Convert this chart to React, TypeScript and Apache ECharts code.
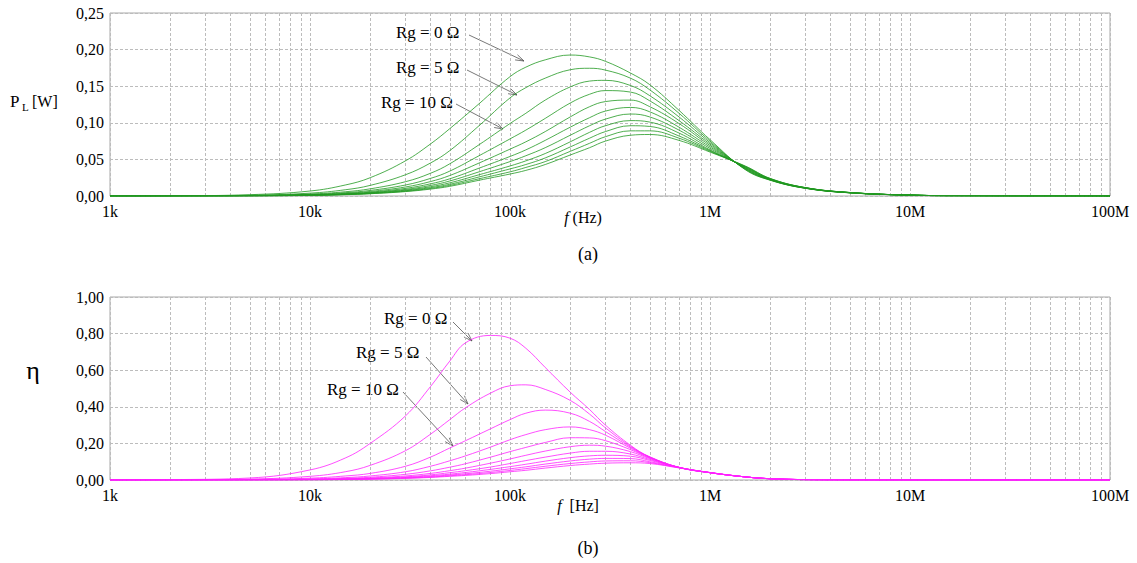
import React, { useEffect, useRef } from "react";
import * as echarts from "echarts";

// Frequency sample points (Hz) for the load-power curves
const powerFreqs = [
  1e3, 2e3, 5e3, 1e4, 1.5e4, 2e4, 3e4, 4e4, 5e4, 7e4, 1e5, 1.2e5, 1.5e5, 2e5, 2.5e5, 3e5,
  4e5, 5e5, 7e5, 1e6, 1.5e6, 2e6, 3e6, 5e6, 1e7, 2e7, 1e8,
];

// Frequency sample points (Hz) for the efficiency curves
const effFreqs = [
  1e3, 2e3, 5e3, 1e4, 1.5e4, 2e4, 3e4, 4e4, 5e4, 6e4, 8e4, 1e5, 1.2e5, 1.5e5, 2e5, 2.5e5,
  3e5, 4e5, 5e5, 7e5, 1e6, 1.5e6, 2e6, 3e6, 5e6, 1e7, 1e8,
];

// Generator resistance of each curve (Ω)
const rgValues = [0, 5, 10, 15, 20, 25, 30, 35, 40, 45, 50];

// Load power P_L [W]
const powerRg0 = [0.0001, 0.0003, 0.0018, 0.0068, 0.015, 0.025, 0.048, 0.071, 0.092, 0.126, 0.163, 0.176, 0.186, 0.1926, 0.19, 0.184, 0.168, 0.152, 0.117, 0.077, 0.036, 0.0215, 0.0105, 0.0043, 0.0012, 0.0003, 0];
const powerRg5 = [0.0001, 0.0002, 0.001, 0.0039, 0.0085, 0.0145, 0.029, 0.045, 0.062, 0.096, 0.134, 0.148, 0.161, 0.1725, 0.1745, 0.172, 0.161, 0.145, 0.113, 0.075, 0.0365, 0.0218, 0.0106, 0.0044, 0.0012, 0.0003, 0];
const powerRg10 = [0, 0.0001, 0.0007, 0.0027, 0.0058, 0.0098, 0.0195, 0.031, 0.044, 0.07, 0.099, 0.113, 0.131, 0.149, 0.157, 0.158, 0.151, 0.137, 0.108, 0.073, 0.037, 0.022, 0.0107, 0.0044, 0.0012, 0.0003, 0];
const powerRg15 = [0, 0.0001, 0.0005, 0.0021, 0.0045, 0.0076, 0.015, 0.024, 0.034, 0.055, 0.078, 0.09, 0.106, 0.127, 0.139, 0.144, 0.142, 0.13, 0.103, 0.071, 0.0375, 0.0222, 0.0108, 0.0045, 0.0012, 0.0003, 0];
const powerRg20 = [0, 0.0001, 0.0004, 0.0017, 0.0037, 0.0062, 0.0123, 0.0197, 0.028, 0.045, 0.064, 0.074, 0.088, 0.108, 0.122, 0.129, 0.131, 0.122, 0.099, 0.069, 0.038, 0.0225, 0.0109, 0.0045, 0.0012, 0.0003, 0];
const powerRg25 = [0, 0.0001, 0.0004, 0.0014, 0.0031, 0.0052, 0.0104, 0.0166, 0.0235, 0.038, 0.054, 0.063, 0.076, 0.094, 0.107, 0.116, 0.121, 0.115, 0.094, 0.067, 0.0385, 0.0228, 0.011, 0.0046, 0.0012, 0.0003, 0];
const powerRg30 = [0, 0.0001, 0.0003, 0.0012, 0.0027, 0.0046, 0.009, 0.0144, 0.0205, 0.033, 0.047, 0.055, 0.066, 0.083, 0.096, 0.105, 0.112, 0.108, 0.09, 0.065, 0.039, 0.023, 0.0111, 0.0046, 0.0012, 0.0003, 0];
const powerRg35 = [0, 0.0001, 0.0003, 0.0011, 0.0024, 0.0041, 0.008, 0.0127, 0.018, 0.029, 0.041, 0.048, 0.058, 0.074, 0.087, 0.096, 0.103, 0.101, 0.086, 0.063, 0.0395, 0.0232, 0.0112, 0.0047, 0.0012, 0.0003, 0];
const powerRg40 = [0, 0, 0.0003, 0.001, 0.0022, 0.0037, 0.0072, 0.0114, 0.016, 0.026, 0.037, 0.043, 0.052, 0.067, 0.079, 0.088, 0.096, 0.095, 0.082, 0.062, 0.04, 0.0235, 0.0113, 0.0047, 0.0012, 0.0003, 0];
const powerRg45 = [0, 0, 0.0002, 0.0009, 0.002, 0.0033, 0.0065, 0.0103, 0.0145, 0.0235, 0.033, 0.039, 0.047, 0.061, 0.072, 0.081, 0.089, 0.089, 0.079, 0.061, 0.0405, 0.0238, 0.0114, 0.0048, 0.0012, 0.0003, 0];
const powerRg50 = [0, 0, 0.0002, 0.0008, 0.0018, 0.0031, 0.006, 0.0094, 0.0132, 0.0215, 0.03, 0.035, 0.043, 0.056, 0.066, 0.075, 0.083, 0.084, 0.076, 0.06, 0.041, 0.024, 0.0115, 0.0048, 0.0012, 0.0003, 0];

// Efficiency η
const effRg0 = [0.0005, 0.002, 0.011, 0.055, 0.12, 0.2, 0.35, 0.51, 0.65, 0.75, 0.79, 0.775, 0.72, 0.615, 0.48, 0.385, 0.3, 0.19, 0.125, 0.068, 0.04, 0.017, 0.007, 0.002, 0.0004, 0, 0];
const effRg5 = [0, 0.001, 0.005, 0.02, 0.045, 0.08, 0.16, 0.25, 0.33, 0.395, 0.475, 0.515, 0.52, 0.495, 0.435, 0.36, 0.285, 0.185, 0.127, 0.069, 0.04, 0.017, 0.007, 0.002, 0.0004, 0, 0];
const effRg10 = [0, 0.0005, 0.003, 0.01, 0.022, 0.036, 0.075, 0.125, 0.175, 0.215, 0.28, 0.33, 0.365, 0.382, 0.365, 0.32, 0.265, 0.18, 0.125, 0.069, 0.04, 0.017, 0.007, 0.002, 0.0004, 0, 0];
const effRg15 = [0, 0.0003, 0.002, 0.006, 0.013, 0.022, 0.045, 0.075, 0.105, 0.132, 0.18, 0.22, 0.248, 0.275, 0.29, 0.275, 0.245, 0.174, 0.123, 0.069, 0.04, 0.017, 0.007, 0.002, 0.0004, 0, 0];
const effRg20 = [0, 0.0002, 0.0013, 0.004, 0.009, 0.015, 0.031, 0.05, 0.07, 0.089, 0.125, 0.155, 0.178, 0.205, 0.231, 0.23, 0.215, 0.166, 0.12, 0.069, 0.04, 0.017, 0.007, 0.002, 0.0004, 0, 0];
const effRg25 = [0, 0.0002, 0.001, 0.003, 0.0065, 0.011, 0.022, 0.036, 0.051, 0.065, 0.092, 0.115, 0.135, 0.158, 0.182, 0.19, 0.185, 0.155, 0.117, 0.069, 0.04, 0.017, 0.007, 0.002, 0.0004, 0, 0];
const effRg30 = [0, 0.0001, 0.0008, 0.0024, 0.005, 0.0085, 0.017, 0.028, 0.04, 0.051, 0.071, 0.09, 0.106, 0.125, 0.147, 0.157, 0.157, 0.142, 0.112, 0.069, 0.04, 0.017, 0.007, 0.002, 0.0004, 0, 0];
const effRg35 = [0, 0.0001, 0.0007, 0.002, 0.004, 0.007, 0.014, 0.023, 0.032, 0.041, 0.058, 0.073, 0.086, 0.103, 0.122, 0.132, 0.135, 0.13, 0.107, 0.068, 0.04, 0.017, 0.007, 0.002, 0.0004, 0, 0];
const effRg40 = [0, 0.0001, 0.0006, 0.0017, 0.0035, 0.006, 0.0115, 0.019, 0.027, 0.034, 0.048, 0.061, 0.072, 0.087, 0.104, 0.114, 0.118, 0.117, 0.1, 0.068, 0.04, 0.017, 0.007, 0.002, 0.0004, 0, 0];
const effRg45 = [0, 0.0001, 0.0005, 0.0015, 0.003, 0.005, 0.01, 0.016, 0.023, 0.029, 0.041, 0.052, 0.062, 0.075, 0.09, 0.099, 0.104, 0.105, 0.095, 0.067, 0.041, 0.017, 0.007, 0.002, 0.0004, 0, 0];
const effRg50 = [0, 0.0001, 0.0004, 0.0013, 0.0026, 0.0045, 0.0088, 0.014, 0.02, 0.025, 0.035, 0.045, 0.053, 0.065, 0.079, 0.087, 0.092, 0.094, 0.09, 0.066, 0.041, 0.017, 0.007, 0.002, 0.0004, 0, 0];

const powerCurves = [powerRg0, powerRg5, powerRg10, powerRg15, powerRg20, powerRg25, powerRg30, powerRg35, powerRg40, powerRg45, powerRg50];
const effCurves = [effRg0, effRg5, effRg10, effRg15, effRg20, effRg25, effRg30, effRg35, effRg40, effRg45, effRg50];

// Decade tick labels, 1 kHz … 100 MHz
const xTickLabels = ["1k", "10k", "100k", "1M", "10M", "100M"];

const FONT = "Liberation Serif, Times New Roman, serif";
const GRID_COLOR = "#bcbcbc";
const GREEN = "#229922";
const MAGENTA = "#ff22ff";

// Minor log grid lines at 2..9 × each decade
const minorGrid: number[] = [];
for (let d = 1e3; d < 1e8; d *= 10) {
  for (let m = 2; m <= 9; m++) minorGrid.push(m * d);
}

const commaFmt = (v: number) => v.toFixed(2).replace(".", ",");

function arrow(x1: number, y1: number, x2: number, y2: number) {
  const a = Math.atan2(y2 - y1, x2 - x1);
  const L = 9;
  const w = 0.32;
  const p1 = [x2 - L * Math.cos(a - w), y2 - L * Math.sin(a - w)];
  const p2 = [x2 - L * Math.cos(a + w), y2 - L * Math.sin(a + w)];
  const style = { stroke: "#555", lineWidth: 0.8, fill: null as any };
  return [
    { type: "line", shape: { x1, y1, x2, y2 }, style },
    { type: "polyline", shape: { points: [p1, [x2, y2], p2] }, style },
  ];
}

function label(text: string, x: number, y: number, size = 17, align = "left") {
  return {
    type: "text",
    x,
    y,
    style: { text, fontSize: size, fontFamily: FONT, fill: "#000", align, verticalAlign: "middle" },
  };
}

function xAxisFor(gridIndex: number) {
  return {
    type: "log",
    gridIndex,
    logBase: 10,
    min: 1e3,
    max: 1e8,
    axisLine: { show: false },
    axisTick: { show: false },
    axisLabel: {
      margin: 7,
      fontSize: 16,
      fontFamily: FONT,
      color: "#000",
      formatter: (v: number) => xTickLabels[Math.round(Math.log10(v)) - 3] ?? "",
    },
    splitLine: { show: true, lineStyle: { color: GRID_COLOR, type: [3, 2], width: 1 } },
  };
}

function yAxisFor(gridIndex: number, max: number, interval: number) {
  return {
    type: "value",
    gridIndex,
    min: 0,
    max,
    interval,
    axisLine: { show: false },
    axisTick: { show: false },
    axisLabel: { margin: 6, fontSize: 16, fontFamily: FONT, color: "#000", formatter: commaFmt },
    splitLine: { show: true, lineStyle: { color: GRID_COLOR, type: [3, 2], width: 1 } },
  };
}

function buildSeries(freqs: number[], curves: number[][], idx: number, color: string, prefix: string) {
  return curves.map((vals, i) => ({
    type: "line",
    name: `${prefix} Rg = ${rgValues[i]} Ω`,
    xAxisIndex: idx,
    yAxisIndex: idx,
    data: freqs.map((f, k) => [f, vals[k]]),
    showSymbol: false,
    smooth: 0.4,
    silent: true,
    lineStyle: { color, width: 0.8 },
    z: 3,
    markLine:
      i === 0
        ? {
            silent: true,
            symbol: ["none", "none"],
            label: { show: false },
            lineStyle: { color: GRID_COLOR, type: [3, 2], width: 1 },
            data: minorGrid.map((f) => ({ xAxis: f })),
            z: 1,
          }
        : undefined,
  }));
}

export default function App() {
  const ref = useRef<HTMLDivElement>(null);

  useEffect(() => {
    if (!ref.current) return;
    const chart = echarts.init(ref.current, undefined, { renderer: "svg" });
    const frame = { show: true, borderColor: "#a8a8a8", borderWidth: 1, backgroundColor: "transparent" };

    chart.setOption({
      animation: false,
      textStyle: { fontFamily: FONT },
      grid: [
        { left: 110, top: 13, width: 1000, height: 183, ...frame },
        { left: 110, top: 297, width: 1000, height: 183, ...frame },
      ],
      xAxis: [xAxisFor(0), xAxisFor(1)],
      yAxis: [yAxisFor(0, 0.25, 0.05), yAxisFor(1, 1, 0.2)],
      series: [
        ...buildSeries(powerFreqs, powerCurves, 0, GREEN, "P_L"),
        ...buildSeries(effFreqs, effCurves, 1, MAGENTA, "η"),
      ],
      graphic: [
        // panel (a) axis titles
        label("P", 10, 101, 17),
        label("L", 22, 107, 11),
        label("[W]", 32, 101, 16),
        {
          type: "text",
          x: 583,
          y: 217,
          style: {
            text: "{i|f} (Hz)",
            fontSize: 16,
            fontFamily: FONT,
            fill: "#000",
            align: "center",
            verticalAlign: "middle",
            rich: { i: { fontStyle: "italic", fontSize: 16, fontFamily: FONT } },
          },
        },
        label("(a)", 588, 254, 18, "center"),
        // panel (a) annotations
        label("Rg = 0 Ω", 396, 32),
        ...arrow(469, 35, 524, 61),
        label("Rg = 5 Ω", 396, 67),
        ...arrow(467, 70, 517, 95),
        label("Rg = 10 Ω", 381, 102),
        ...arrow(456, 104, 503, 129),
        // panel (b) axis titles
        label("η", 33, 370, 26, "center"),
        {
          type: "text",
          x: 578,
          y: 505,
          style: {
            text: "{i|f}  [Hz]",
            fontSize: 16,
            fontFamily: FONT,
            fill: "#000",
            align: "center",
            verticalAlign: "middle",
            rich: { i: { fontStyle: "italic", fontSize: 16, fontFamily: FONT } },
          },
        },
        label("(b)", 588, 548, 18, "center"),
        // panel (b) annotations
        label("Rg = 0 Ω", 384, 318),
        ...arrow(453, 322, 472, 341),
        label("Rg = 5 Ω", 356, 352),
        ...arrow(426, 357, 468, 404),
        label("Rg = 10 Ω", 327, 389),
        ...arrow(403, 392, 453, 446),
      ],
    });

    return () => chart.dispose();
  }, []);

  return (
    <div
      ref={ref}
      style={{ position: "absolute", left: 0, top: 0, width: 1137, height: 563, background: "#fff" }}
    />
  );
}
